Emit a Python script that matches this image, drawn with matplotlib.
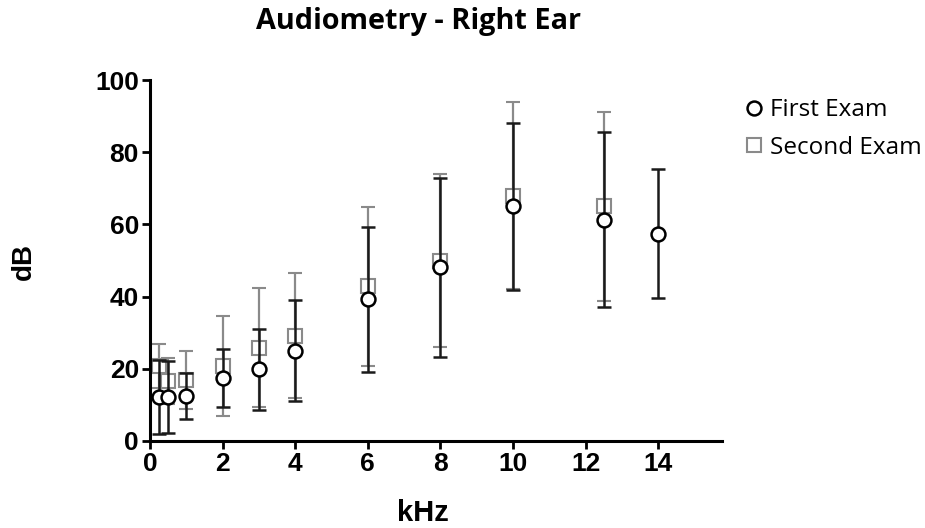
import matplotlib
matplotlib.use("Agg")
import matplotlib.pyplot as plt
from matplotlib.lines import Line2D

# Data
freq_first = [0.25, 0.5, 1, 2, 3, 4, 6, 8, 10, 12.5, 14]
mean_first = [12.1, 12.2, 12.4, 17.4, 19.9, 25.0, 39.2, 48.1, 65.0, 61.3, 57.4]
sd_first = [10.2, 9.9, 6.3, 8.0, 11.2, 14.0, 20.1, 24.7, 23.2, 24.3, 17.9]

freq_second = [0.25, 0.5, 1, 2, 3, 4, 6, 8, 10, 12.5]
mean_second = [20.8, 16.7, 17.0, 20.8, 25.9, 29.2, 42.8, 50.0, 68.0, 65.0]
sd_second = [6.1, 6.4, 8.0, 13.9, 16.5, 17.3, 22.0, 23.9, 25.8, 26.2]

xticks = [0, 2, 4, 6, 8, 10, 12, 14]
yticks = [0, 20, 40, 60, 80, 100]

plt.rcParams['font.family'] = ['Liberation Sans', 'DejaVu Sans']

fig = plt.figure(figsize=(9.25, 5.28), dpi=100)
ax = fig.add_axes([150/925, 87/528, 572/925, 361/528])

gray = '#8a8a8a'
ax.errorbar(freq_second, mean_second, yerr=sd_second, fmt='s', ms=9.5,
            mfc='white', mec=gray, mew=1.5, ecolor=gray, elinewidth=1.6,
            capsize=5, capthick=1.6, zorder=2, clip_on=False)
ax.errorbar(freq_first, mean_first, yerr=sd_first, fmt='o', ms=10,
            mfc='white', mec='black', mew=1.8, ecolor='#1a1a1a', elinewidth=1.8,
            capsize=5, capthick=1.8, zorder=3, clip_on=False)

ax.set_xlim(0, 15.76)
ax.set_ylim(0, 100)
ax.set_xticks(xticks)
ax.set_yticks(yticks)
for s in ['top', 'right']:
    ax.spines[s].set_visible(False)
for s in ['left', 'bottom']:
    ax.spines[s].set_linewidth(2.2)
ax.tick_params(axis='both', direction='out', length=6, width=2, labelsize=19, pad=2)
for lab in ax.get_xticklabels() + ax.get_yticklabels():
    lab.set_fontweight('bold')

ax.set_xlabel('kHz', fontsize=21, fontweight='bold', va='center')
ax.xaxis.set_label_coords((423 - 150) / 572, (441 - 513) / 361)
ax.set_ylabel('dB', fontsize=20, fontweight='bold', va='center')
ax.yaxis.set_label_coords((24 - 150) / 572, (441 - 261) / 361)

fig.text(419/925, 1 - 21/528, 'Audiometry - Right Ear', ha='center', va='center',
         fontsize=20.8, fontweight='bold', family=['Open Sans', 'DejaVu Sans'])

handles = [
    Line2D([], [], marker='o', ls='none', ms=10, mfc='white', mec='black', mew=1.8),
    Line2D([], [], marker='s', ls='none', ms=10, mfc='white', mec=gray, mew=1.5),
]
leg = fig.legend(handles, ['First Exam', 'Second Exam'], loc='upper left',
                 bbox_to_anchor=(730/925, 1 - 86/528), frameon=False,
                 prop={'family': ['Open Sans', 'DejaVu Sans'], 'size': 17.5},
                 handletextpad=0.15, handlelength=1.0, labelspacing=0.55, borderpad=0)

fig.savefig('out.png', dpi=100)
